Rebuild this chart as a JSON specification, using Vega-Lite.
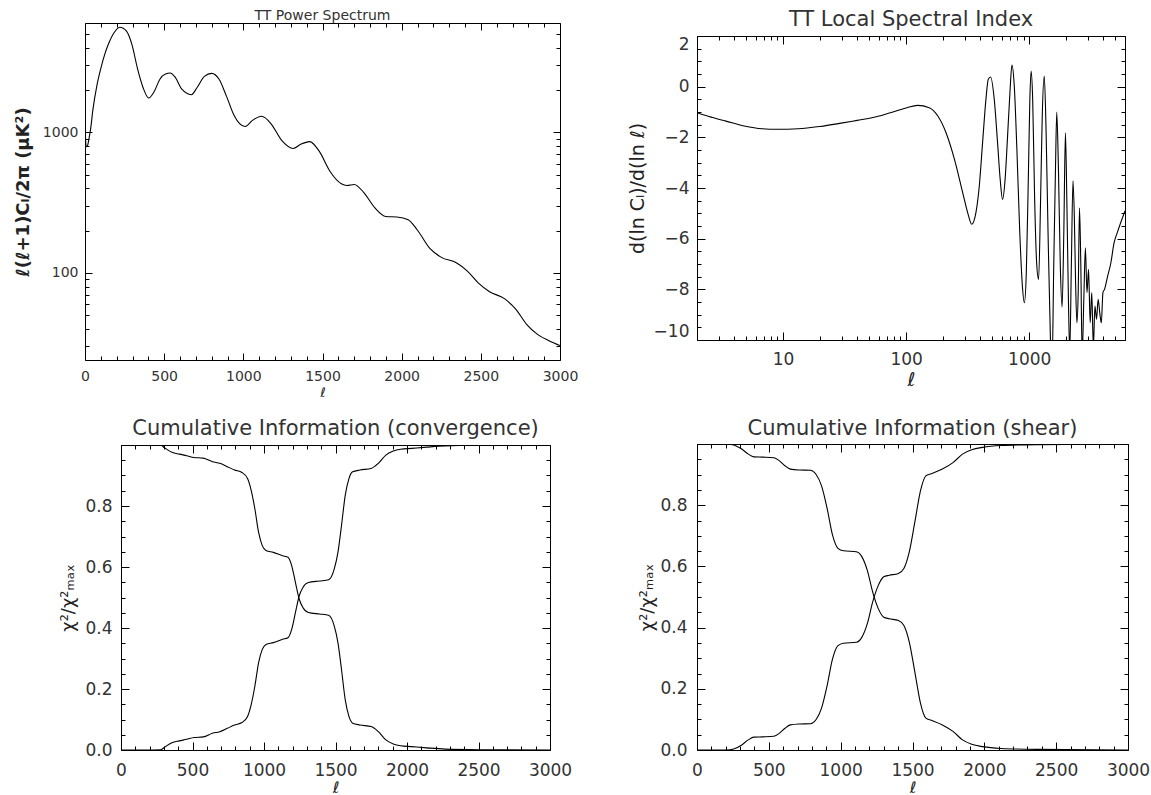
{
  "$schema": "https://vega.github.io/schema/vega-lite/v6.json",
  "background": "white",
  "padding": {"left": 10, "top": 7, "right": 5, "bottom": 0},
  "autosize": {"type": "pad"},
  "config": {
    "font": "DejaVu Sans",
    "view": {"stroke": "#000", "strokeWidth": 1},
    "axis": {"grid": false, "domain": false, "labelColor": "#333", "titleColor": "#222", "tickColor": "#000", "tickWidth": 1, "labelFont": "DejaVu Sans", "titleFont": "DejaVu Sans", "labelOverlap": false, "titleFontWeight": "normal"},
    "title": {"color": "#333", "fontWeight": "normal", "frame": "group", "anchor": "middle", "font": "DejaVu Sans"}
  },
  "datasets": {
    "spacer": [{"k": 0}],
    "ps": [{"l":2,"v":1000},{"l":4,"v":870},{"l":8,"v":790},{"l":15,"v":800},{"l":25,"v":900},{"l":35,"v":1050},{"l":50,"v":1450},{"l":75,"v":2150},{"l":100,"v":2850},{"l":125,"v":3600},{"l":150,"v":4300},{"l":180,"v":5050},{"l":220,"v":5600},{"l":262,"v":5250},{"l":297,"v":4190},{"l":332,"v":2830},{"l":367,"v":2077},{"l":402,"v":1754},{"l":438,"v":1962},{"l":473,"v":2390},{"l":508,"v":2600},{"l":538,"v":2644},{"l":566,"v":2500},{"l":613,"v":2020},{"l":672,"v":1854},{"l":707,"v":2077},{"l":754,"v":2500},{"l":800,"v":2630},{"l":847,"v":2390},{"l":894,"v":1803},{"l":941,"v":1324},{"l":1011,"v":1100},{"l":1058,"v":1217},{"l":1116,"v":1302},{"l":1175,"v":1151},{"l":1245,"v":869},{"l":1315,"v":768},{"l":1362,"v":822},{"l":1420,"v":859},{"l":1479,"v":735},{"l":1549,"v":525},{"l":1619,"v":431},{"l":1654,"v":419},{"l":1701,"v":426},{"l":1760,"v":374},{"l":1830,"v":291},{"l":1900,"v":252},{"l":1970,"v":250},{"l":2041,"v":239},{"l":2099,"v":202},{"l":2181,"v":148},{"l":2251,"v":129},{"l":2345,"v":118},{"l":2415,"v":103},{"l":2485,"v":84.5},{"l":2555,"v":73.4},{"l":2649,"v":65.6},{"l":2719,"v":55.5},{"l":2789,"v":43.1},{"l":2860,"v":36.4},{"l":2930,"v":32.9},{"l":3000,"v":30.4}],
    "si": [{"l":2,"v":-1.03},{"l":2.5,"v":-1.18},{"l":3.44,"v":-1.36},{"l":4.83,"v":-1.55},{"l":6.78,"v":-1.66},{"l":8.9,"v":-1.68},{"l":13.3,"v":-1.66},{"l":20,"v":-1.57},{"l":28.8,"v":-1.45},{"l":40,"v":-1.33},{"l":53.7,"v":-1.22},{"l":73,"v":-1.04},{"l":100,"v":-0.84},{"l":124,"v":-0.74},{"l":154,"v":-0.83},{"l":181,"v":-1.16},{"l":211,"v":-1.82},{"l":247,"v":-2.87},{"l":288,"v":-4.18},{"l":316,"v":-4.97},{"l":341,"v":-5.43},{"l":369,"v":-4.97},{"l":393,"v":-3.92},{"l":418,"v":-2.21},{"l":445,"v":-0.5},{"l":465,"v":0.29},{"l":485,"v":0.38},{"l":520,"v":-0.5},{"l":553,"v":-2.21},{"l":581,"v":-3.66},{"l":607,"v":-4.45},{"l":637,"v":-3.66},{"l":665,"v":-2.08},{"l":697,"v":-0.24},{"l":724,"v":0.85},{"l":756,"v":0.03},{"l":794,"v":-2.47},{"l":838,"v":-5.76},{"l":880,"v":-7.87},{"l":913,"v":-8.53},{"l":947,"v":-7.34},{"l":982,"v":-3.79},{"l":1012,"v":-0.5},{"l":1036,"v":0.62},{"l":1067,"v":-0.5},{"l":1107,"v":-4.45},{"l":1149,"v":-6.95},{"l":1192,"v":-7.61},{"l":1237,"v":-4.45},{"l":1276,"v":-1.16},{"l":1325,"v":0.42},{"l":1372,"v":-1.82},{"l":1422,"v":-5.76},{"l":1487,"v":-9.97},{"l":1528,"v":-11.5},{"l":1582,"v":-7.08},{"l":1636,"v":-3.13},{"l":1674,"v":-1.0},{"l":1730,"v":-3.4},{"l":1789,"v":-7.08},{"l":1849,"v":-8.7},{"l":1910,"v":-5.76},{"l":1969,"v":-1.82},{"l":2021,"v":-4.45},{"l":2082,"v":-8.39},{"l":2134,"v":-10.5},{"l":2199,"v":-7.08},{"l":2267,"v":-3.72},{"l":2325,"v":-5.11},{"l":2381,"v":-7.74},{"l":2440,"v":-9.32},{"l":2500,"v":-8.13},{"l":2562,"v":-4.78},{"l":2626,"v":-7.08},{"l":2692,"v":-10.6},{"l":2777,"v":-8.39},{"l":2860,"v":-6.36},{"l":2946,"v":-8.13},{"l":3035,"v":-7.21},{"l":3127,"v":-9.32},{"l":3222,"v":-8.13},{"l":3319,"v":-10.3},{"l":3420,"v":-8.66},{"l":3523,"v":-9.18},{"l":3630,"v":-8.39},{"l":3740,"v":-8.92},{"l":3853,"v":-9.32},{"l":3970,"v":-8.13},{"l":4090,"v":-8.0},{"l":4341,"v":-7.47},{"l":4608,"v":-6.95},{"l":4892,"v":-6.16},{"l":5192,"v":-5.76},{"l":6000,"v":-4.9}],
    "conv": [{"l":0,"v":0,"s":"a"},{"l":150,"v":0,"s":"a"},{"l":279,"v":0.001,"s":"a"},{"l":304,"v":0.009,"s":"a"},{"l":356,"v":0.024,"s":"a"},{"l":408,"v":0.03,"s":"a"},{"l":459,"v":0.035,"s":"a"},{"l":511,"v":0.041,"s":"a"},{"l":575,"v":0.043,"s":"a"},{"l":640,"v":0.055,"s":"a"},{"l":691,"v":0.06,"s":"a"},{"l":743,"v":0.071,"s":"a"},{"l":794,"v":0.082,"s":"a"},{"l":846,"v":0.09,"s":"a"},{"l":885,"v":0.11,"s":"a"},{"l":910,"v":0.148,"s":"a"},{"l":936,"v":0.209,"s":"a"},{"l":962,"v":0.286,"s":"a"},{"l":988,"v":0.33,"s":"a"},{"l":1014,"v":0.346,"s":"a"},{"l":1065,"v":0.352,"s":"a"},{"l":1130,"v":0.363,"s":"a"},{"l":1168,"v":0.368,"s":"a"},{"l":1194,"v":0.396,"s":"a"},{"l":1220,"v":0.451,"s":"a"},{"l":1246,"v":0.505,"s":"a"},{"l":1272,"v":0.533,"s":"a"},{"l":1310,"v":0.549,"s":"a"},{"l":1388,"v":0.554,"s":"a"},{"l":1452,"v":0.558,"s":"a"},{"l":1491,"v":0.593,"s":"a"},{"l":1517,"v":0.648,"s":"a"},{"l":1542,"v":0.736,"s":"a"},{"l":1568,"v":0.835,"s":"a"},{"l":1594,"v":0.89,"s":"a"},{"l":1620,"v":0.912,"s":"a"},{"l":1671,"v":0.918,"s":"a"},{"l":1749,"v":0.923,"s":"a"},{"l":1800,"v":0.94,"s":"a"},{"l":1852,"v":0.967,"s":"a"},{"l":1904,"v":0.98,"s":"a"},{"l":1955,"v":0.986,"s":"a"},{"l":2032,"v":0.989,"s":"a"},{"l":2136,"v":0.993,"s":"a"},{"l":2265,"v":0.997,"s":"a"},{"l":2523,"v":0.999,"s":"a"},{"l":3000,"v":1,"s":"a"},
      {"l":0,"v":1,"s":"b"},{"l":150,"v":1,"s":"b"},{"l":279,"v":0.999,"s":"b"},{"l":304,"v":0.991,"s":"b"},{"l":356,"v":0.976,"s":"b"},{"l":408,"v":0.97,"s":"b"},{"l":459,"v":0.965,"s":"b"},{"l":511,"v":0.959,"s":"b"},{"l":575,"v":0.957,"s":"b"},{"l":640,"v":0.945,"s":"b"},{"l":691,"v":0.94,"s":"b"},{"l":743,"v":0.929,"s":"b"},{"l":794,"v":0.918,"s":"b"},{"l":846,"v":0.91,"s":"b"},{"l":885,"v":0.89,"s":"b"},{"l":910,"v":0.852,"s":"b"},{"l":936,"v":0.791,"s":"b"},{"l":962,"v":0.714,"s":"b"},{"l":988,"v":0.67,"s":"b"},{"l":1014,"v":0.654,"s":"b"},{"l":1065,"v":0.648,"s":"b"},{"l":1130,"v":0.637,"s":"b"},{"l":1168,"v":0.632,"s":"b"},{"l":1194,"v":0.604,"s":"b"},{"l":1220,"v":0.549,"s":"b"},{"l":1246,"v":0.495,"s":"b"},{"l":1272,"v":0.467,"s":"b"},{"l":1310,"v":0.451,"s":"b"},{"l":1388,"v":0.446,"s":"b"},{"l":1452,"v":0.442,"s":"b"},{"l":1491,"v":0.407,"s":"b"},{"l":1517,"v":0.352,"s":"b"},{"l":1542,"v":0.264,"s":"b"},{"l":1568,"v":0.165,"s":"b"},{"l":1594,"v":0.11,"s":"b"},{"l":1620,"v":0.088,"s":"b"},{"l":1671,"v":0.082,"s":"b"},{"l":1749,"v":0.077,"s":"b"},{"l":1800,"v":0.06,"s":"b"},{"l":1852,"v":0.033,"s":"b"},{"l":1904,"v":0.02,"s":"b"},{"l":1955,"v":0.014,"s":"b"},{"l":2032,"v":0.011,"s":"b"},{"l":2136,"v":0.007,"s":"b"},{"l":2265,"v":0.003,"s":"b"},{"l":2523,"v":0.001,"s":"b"},{"l":3000,"v":0,"s":"b"}],
    "shear": [{"l":0,"v":0,"s":"a"},{"l":204,"v":0,"s":"a"},{"l":255,"v":0.003,"s":"a"},{"l":306,"v":0.015,"s":"a"},{"l":357,"v":0.033,"s":"a"},{"l":395,"v":0.042,"s":"a"},{"l":459,"v":0.043,"s":"a"},{"l":535,"v":0.045,"s":"a"},{"l":574,"v":0.055,"s":"a"},{"l":612,"v":0.071,"s":"a"},{"l":650,"v":0.082,"s":"a"},{"l":714,"v":0.085,"s":"a"},{"l":790,"v":0.086,"s":"a"},{"l":828,"v":0.099,"s":"a"},{"l":867,"v":0.137,"s":"a"},{"l":905,"v":0.209,"s":"a"},{"l":943,"v":0.297,"s":"a"},{"l":981,"v":0.341,"s":"a"},{"l":1020,"v":0.349,"s":"a"},{"l":1109,"v":0.352,"s":"a"},{"l":1147,"v":0.368,"s":"a"},{"l":1185,"v":0.412,"s":"a"},{"l":1223,"v":0.484,"s":"a"},{"l":1262,"v":0.538,"s":"a"},{"l":1300,"v":0.566,"s":"a"},{"l":1338,"v":0.571,"s":"a"},{"l":1402,"v":0.577,"s":"a"},{"l":1440,"v":0.593,"s":"a"},{"l":1478,"v":0.648,"s":"a"},{"l":1517,"v":0.747,"s":"a"},{"l":1555,"v":0.846,"s":"a"},{"l":1593,"v":0.896,"s":"a"},{"l":1631,"v":0.903,"s":"a"},{"l":1708,"v":0.918,"s":"a"},{"l":1784,"v":0.94,"s":"a"},{"l":1848,"v":0.967,"s":"a"},{"l":1912,"v":0.981,"s":"a"},{"l":1988,"v":0.989,"s":"a"},{"l":2116,"v":0.995,"s":"a"},{"l":2371,"v":0.998,"s":"a"},{"l":3000,"v":1,"s":"a"},
      {"l":0,"v":1,"s":"b"},{"l":204,"v":1,"s":"b"},{"l":255,"v":0.997,"s":"b"},{"l":306,"v":0.985,"s":"b"},{"l":357,"v":0.967,"s":"b"},{"l":395,"v":0.958,"s":"b"},{"l":459,"v":0.957,"s":"b"},{"l":535,"v":0.955,"s":"b"},{"l":574,"v":0.945,"s":"b"},{"l":612,"v":0.929,"s":"b"},{"l":650,"v":0.918,"s":"b"},{"l":714,"v":0.915,"s":"b"},{"l":790,"v":0.914,"s":"b"},{"l":828,"v":0.901,"s":"b"},{"l":867,"v":0.863,"s":"b"},{"l":905,"v":0.791,"s":"b"},{"l":943,"v":0.703,"s":"b"},{"l":981,"v":0.659,"s":"b"},{"l":1020,"v":0.651,"s":"b"},{"l":1109,"v":0.648,"s":"b"},{"l":1147,"v":0.632,"s":"b"},{"l":1185,"v":0.588,"s":"b"},{"l":1223,"v":0.516,"s":"b"},{"l":1262,"v":0.462,"s":"b"},{"l":1300,"v":0.434,"s":"b"},{"l":1338,"v":0.429,"s":"b"},{"l":1402,"v":0.423,"s":"b"},{"l":1440,"v":0.407,"s":"b"},{"l":1478,"v":0.352,"s":"b"},{"l":1517,"v":0.253,"s":"b"},{"l":1555,"v":0.154,"s":"b"},{"l":1593,"v":0.104,"s":"b"},{"l":1631,"v":0.097,"s":"b"},{"l":1708,"v":0.082,"s":"b"},{"l":1784,"v":0.06,"s":"b"},{"l":1848,"v":0.033,"s":"b"},{"l":1912,"v":0.019,"s":"b"},{"l":1988,"v":0.011,"s":"b"},{"l":2116,"v":0.005,"s":"b"},{"l":2371,"v":0.002,"s":"b"},{"l":3000,"v":0,"s":"b"}]
  },
  "spacing": 45,
  "hconcat": [
    {
      "spacing": 0,
      "vconcat": [
        {"width": 1, "height": 1, "data": {"name": "spacer"}, "mark": {"type": "point", "opacity": 0, "size": 0}, "view": {"stroke": null}},
        {
          "spacing": 17,
          "vconcat": [
            {
              "spacing": 0,
              "hconcat": [
                {"width": 1, "height": 1, "data": {"name": "spacer"}, "mark": {"type": "point", "opacity": 0, "size": 0}, "view": {"stroke": null}},
                {
                  "width": 475, "height": 337,
                  "title": {"text": "TT Power Spectrum", "fontSize": 14, "offset": 0},
                  "data": {"name": "ps"},
                  "layer": [
                    {"mark": {"type": "line", "color": "#000", "strokeWidth": 1.1, "interpolate": "monotone", "clip": true},
                     "encoding": {
                       "x": {"field": "l", "type": "quantitative", "scale": {"domain": [0, 3000], "nice": false, "zero": false},
                             "axis": {"orient": "bottom", "values": [0,500,1000,1500,2000,2500,3000], "format": "d", "ticks": false, "tickSize": 0, "labelFontSize": 14, "labelPadding": 9, "labelFlush": false, "title": "ℓ", "titleFontSize": 13, "titleFontStyle": "italic", "titlePadding": 3}},
                       "y": {"field": "v", "type": "quantitative", "scale": {"type": "log", "domain": [24, 6000], "nice": false},
                             "axis": {"orient": "left", "values": [100, 1000], "format": "d", "ticks": false, "tickSize": 0, "labelFontSize": 14, "labelPadding": 7, "title": "ℓ(ℓ+1)Cₗ/2π (μK²)", "titleFontSize": 18, "titleFontWeight": "bold", "titleX": -53}}}},
                    {"mark": {"type": "line", "opacity": 0, "clip": true},
                     "encoding": {
                       "x": {"field": "l", "type": "quantitative", "scale": {"domain": [0, 3000], "nice": false, "zero": false},
                             "axis": {"orient": "bottom", "values": [0,500,1000,1500,2000,2500,3000], "labels": false, "tickSize": -7, "title": null}},
                       "y": {"field": "v", "type": "quantitative", "scale": {"type": "log", "domain": [24, 6000], "nice": false},
                             "axis": {"orient": "left", "values": [100, 1000], "labels": false, "tickSize": -7, "title": null}}}},
                    {"mark": {"type": "line", "opacity": 0, "clip": true},
                     "encoding": {
                       "x": {"field": "l", "type": "quantitative", "scale": {"domain": [0, 3000], "nice": false, "zero": false},
                             "axis": {"orient": "bottom", "values": [100,200,300,400,600,700,800,900,1100,1200,1300,1400,1600,1700,1800,1900,2100,2200,2300,2400,2600,2700,2800,2900], "labels": false, "tickSize": -4, "title": null}},
                       "y": {"field": "v", "type": "quantitative", "scale": {"type": "log", "domain": [24, 6000], "nice": false},
                             "axis": {"orient": "left", "values": [30,40,50,60,70,80,90,200,300,400,500,600,700,800,900,2000,3000,4000,5000], "labels": false, "tickSize": -4, "title": null}}}},
                    {"mark": {"type": "line", "opacity": 0, "clip": true},
                     "encoding": {
                       "x": {"field": "l", "type": "quantitative", "scale": {"domain": [0, 3000], "nice": false, "zero": false},
                             "axis": {"orient": "top", "values": [0,500,1000,1500,2000,2500,3000], "labels": false, "tickSize": -7, "title": null}},
                       "y": {"field": "v", "type": "quantitative", "scale": {"type": "log", "domain": [24, 6000], "nice": false},
                             "axis": {"orient": "right", "values": [100, 1000], "labels": false, "tickSize": -7, "title": null}}}},
                    {"mark": {"type": "line", "opacity": 0, "clip": true},
                     "encoding": {
                       "x": {"field": "l", "type": "quantitative", "scale": {"domain": [0, 3000], "nice": false, "zero": false},
                             "axis": {"orient": "top", "values": [100,200,300,400,600,700,800,900,1100,1200,1300,1400,1600,1700,1800,1900,2100,2200,2300,2400,2600,2700,2800,2900], "labels": false, "tickSize": -4, "title": null}},
                       "y": {"field": "v", "type": "quantitative", "scale": {"type": "log", "domain": [24, 6000], "nice": false},
                             "axis": {"orient": "right", "values": [30,40,50,60,70,80,90,200,300,400,500,600,700,800,900,2000,3000,4000,5000], "labels": false, "tickSize": -4, "title": null}}}},
                    {"mark": {"type": "line", "opacity": 0, "clip": true},
                     "encoding": {
                       "x": {"field": "l", "type": "quantitative", "scale": {"domain": [0, 3000], "nice": false, "zero": false}, "axis": null},
                       "y": {"field": "v", "type": "quantitative", "scale": {"type": "log", "domain": [24, 6000], "nice": false},
                             "axis": {"orient": "left", "values": [400], "labels": false, "tickSize": 73, "tickOpacity": 0, "title": null}}}}
                  ],
                  "resolve": {"axis": {"x": "independent", "y": "independent"}}
                }
              ]
            },
            {
              "spacing": 0,
              "hconcat": [
                {"width": 1, "height": 1, "data": {"name": "spacer"}, "mark": {"type": "point", "opacity": 0, "size": 0}, "view": {"stroke": null}},
                {
                  "width": 429, "height": 305,
                  "title": {"text": "Cumulative Information (convergence)", "fontSize": 21, "offset": 6},
                  "data": {"name": "conv"},
                  "layer": [
                    {"mark": {"type": "line", "color": "#000", "strokeWidth": 1.1, "interpolate": "monotone", "clip": true},
                     "encoding": {
                       "detail": {"field": "s"},
                       "x": {"field": "l", "type": "quantitative", "scale": {"domain": [0, 3000], "nice": false, "zero": false},
                             "axis": {"orient": "bottom", "values": [0,500,1000,1500,2000,2500,3000], "format": "d", "ticks": false, "tickSize": 0, "labelFontSize": 17, "labelPadding": 12, "labelFlush": false, "title": "ℓ", "titleFontSize": 16, "titleFontStyle": "italic", "titlePadding": 1}},
                       "y": {"field": "v", "type": "quantitative", "scale": {"domain": [0, 1], "nice": false, "zero": false},
                             "axis": {"orient": "left", "values": [0, 0.2, 0.4, 0.6, 0.8], "format": ".1f", "ticks": false, "tickSize": 0, "labelFontSize": 17, "labelPadding": 9, "title": "χ²/χ²ₘₐₓ", "titleFontSize": 18, "titleX": -44}}}},
                    {"mark": {"type": "line", "opacity": 0, "clip": true},
                     "encoding": {
                       "detail": {"field": "s"},
                       "x": {"field": "l", "type": "quantitative", "scale": {"domain": [0, 3000], "nice": false, "zero": false},
                             "axis": {"orient": "bottom", "values": [0,500,1000,1500,2000,2500,3000], "labels": false, "tickSize": -8, "title": null}},
                       "y": {"field": "v", "type": "quantitative", "scale": {"domain": [0, 1], "nice": false, "zero": false},
                             "axis": {"orient": "left", "values": [0, 0.2, 0.4, 0.6, 0.8, 1], "labels": false, "tickSize": -8, "title": null}}}},
                    {"mark": {"type": "line", "opacity": 0, "clip": true},
                     "encoding": {
                       "detail": {"field": "s"},
                       "x": {"field": "l", "type": "quantitative", "scale": {"domain": [0, 3000], "nice": false, "zero": false},
                             "axis": {"orient": "bottom", "values": [100,200,300,400,600,700,800,900,1100,1200,1300,1400,1600,1700,1800,1900,2100,2200,2300,2400,2600,2700,2800,2900], "labels": false, "tickSize": -4, "title": null}},
                       "y": {"field": "v", "type": "quantitative", "scale": {"domain": [0, 1], "nice": false, "zero": false},
                             "axis": {"orient": "left", "values": [0.05,0.1,0.15,0.25,0.3,0.35,0.45,0.5,0.55,0.65,0.7,0.75,0.85,0.9,0.95], "labels": false, "tickSize": -4, "title": null}}}},
                    {"mark": {"type": "line", "opacity": 0, "clip": true},
                     "encoding": {
                       "detail": {"field": "s"},
                       "x": {"field": "l", "type": "quantitative", "scale": {"domain": [0, 3000], "nice": false, "zero": false},
                             "axis": {"orient": "top", "values": [0,500,1000,1500,2000,2500,3000], "labels": false, "tickSize": -8, "title": null}},
                       "y": {"field": "v", "type": "quantitative", "scale": {"domain": [0, 1], "nice": false, "zero": false},
                             "axis": {"orient": "right", "values": [0, 0.2, 0.4, 0.6, 0.8, 1], "labels": false, "tickSize": -8, "title": null}}}},
                    {"mark": {"type": "line", "opacity": 0, "clip": true},
                     "encoding": {
                       "detail": {"field": "s"},
                       "x": {"field": "l", "type": "quantitative", "scale": {"domain": [0, 3000], "nice": false, "zero": false},
                             "axis": {"orient": "top", "values": [100,200,300,400,600,700,800,900,1100,1200,1300,1400,1600,1700,1800,1900,2100,2200,2300,2400,2600,2700,2800,2900], "labels": false, "tickSize": -4, "title": null}},
                       "y": {"field": "v", "type": "quantitative", "scale": {"domain": [0, 1], "nice": false, "zero": false},
                             "axis": {"orient": "right", "values": [0.05,0.1,0.15,0.25,0.3,0.35,0.45,0.5,0.55,0.65,0.7,0.75,0.85,0.9,0.95], "labels": false, "tickSize": -4, "title": null}}}},
                    {"mark": {"type": "line", "opacity": 0, "clip": true},
                     "encoding": {
                       "detail": {"field": "s"},
                       "x": {"field": "l", "type": "quantitative", "scale": {"domain": [0, 3000], "nice": false, "zero": false}, "axis": null},
                       "y": {"field": "v", "type": "quantitative", "scale": {"domain": [0, 1], "nice": false, "zero": false},
                             "axis": {"orient": "left", "values": [0.5], "labels": false, "tickSize": 109, "tickOpacity": 0, "title": null}}}}
                  ],
                  "resolve": {"axis": {"x": "independent", "y": "independent"}}
                }
              ]
            }
          ]
        }
      ]
    },
    {
      "spacing": 0,
      "vconcat": [
        {"width": 1, "height": 1, "data": {"name": "spacer"}, "mark": {"type": "point", "opacity": 0, "size": 0}, "view": {"stroke": null}},
        {
          "spacing": 27,
          "vconcat": [
            {
              "width": 428, "height": 304,
              "title": {"text": "TT Local Spectral Index", "fontSize": 21, "offset": 5},
              "data": {"name": "si"},
              "layer": [
                {"mark": {"type": "line", "color": "#000", "strokeWidth": 1.1, "interpolate": "monotone", "clip": true},
                 "encoding": {
                   "x": {"field": "l", "type": "quantitative", "scale": {"type": "log", "domain": [2, 6000], "nice": false},
                         "axis": {"orient": "bottom", "values": [10, 100, 1000], "format": "d", "ticks": false, "tickSize": 0, "labelFontSize": 17, "labelPadding": 11, "labelFlush": false, "title": "ℓ", "titleFontSize": 19, "titleFontStyle": "italic", "titlePadding": 3}},
                   "y": {"field": "v", "type": "quantitative", "scale": {"domain": [-10, 2], "nice": false, "zero": false},
                         "axis": {"orient": "left", "values": [-10,-8,-6,-4,-2,0,2], "format": "d", "ticks": false, "tickSize": 0, "labelFontSize": 17, "labelPadding": 8, "labelFlush": true, "title": "d(ln Cₗ)/d(ln ℓ)", "titleFontSize": 19, "titleX": -50}}}},
                {"mark": {"type": "line", "opacity": 0, "clip": true},
                 "encoding": {
                   "x": {"field": "l", "type": "quantitative", "scale": {"type": "log", "domain": [2, 6000], "nice": false},
                         "axis": {"orient": "bottom", "values": [10, 100, 1000], "labels": false, "tickSize": -8, "title": null}},
                   "y": {"field": "v", "type": "quantitative", "scale": {"domain": [-10, 2], "nice": false, "zero": false},
                         "axis": {"orient": "left", "values": [-10,-8,-6,-4,-2,0,2], "labels": false, "tickSize": -8, "title": null}}}},
                {"mark": {"type": "line", "opacity": 0, "clip": true},
                 "encoding": {
                   "x": {"field": "l", "type": "quantitative", "scale": {"type": "log", "domain": [2, 6000], "nice": false},
                         "axis": {"orient": "bottom", "values": [2,3,4,5,6,7,8,9,20,30,40,50,60,70,80,90,200,300,400,500,600,700,800,900,2000,3000,4000,5000,6000], "labels": false, "tickSize": -4, "title": null}},
                   "y": {"field": "v", "type": "quantitative", "scale": {"domain": [-10, 2], "nice": false, "zero": false},
                         "axis": {"orient": "left", "values": [-9.5,-9,-8.5,-7.5,-7,-6.5,-5.5,-5,-4.5,-3.5,-3,-2.5,-1.5,-1,-0.5,0.5,1,1.5], "labels": false, "tickSize": -4, "title": null}}}},
                {"mark": {"type": "line", "opacity": 0, "clip": true},
                 "encoding": {
                   "x": {"field": "l", "type": "quantitative", "scale": {"type": "log", "domain": [2, 6000], "nice": false},
                         "axis": {"orient": "top", "values": [10, 100, 1000], "labels": false, "tickSize": -8, "title": null}},
                   "y": {"field": "v", "type": "quantitative", "scale": {"domain": [-10, 2], "nice": false, "zero": false},
                         "axis": {"orient": "right", "values": [-10,-8,-6,-4,-2,0,2], "labels": false, "tickSize": -8, "title": null}}}},
                {"mark": {"type": "line", "opacity": 0, "clip": true},
                 "encoding": {
                   "x": {"field": "l", "type": "quantitative", "scale": {"type": "log", "domain": [2, 6000], "nice": false},
                         "axis": {"orient": "top", "values": [2,3,4,5,6,7,8,9,20,30,40,50,60,70,80,90,200,300,400,500,600,700,800,900,2000,3000,4000,5000,6000], "labels": false, "tickSize": -4, "title": null}},
                   "y": {"field": "v", "type": "quantitative", "scale": {"domain": [-10, 2], "nice": false, "zero": false},
                         "axis": {"orient": "right", "values": [-9.5,-9,-8.5,-7.5,-7,-6.5,-5.5,-5,-4.5,-3.5,-3,-2.5,-1.5,-1,-0.5,0.5,1,1.5], "labels": false, "tickSize": -4, "title": null}}}},
                {"mark": {"type": "line", "opacity": 0, "clip": true},
                 "encoding": {
                   "x": {"field": "l", "type": "quantitative", "scale": {"type": "log", "domain": [2, 6000], "nice": false}, "axis": null},
                   "y": {"field": "v", "type": "quantitative", "scale": {"domain": [-10, 2], "nice": false, "zero": false},
                         "axis": {"orient": "left", "values": [-3], "labels": false, "tickSize": 72, "tickOpacity": 0, "title": null}}}}
              ],
              "resolve": {"axis": {"x": "independent", "y": "independent"}}
            },
            {
              "width": 431, "height": 306,
              "title": {"text": "Cumulative Information (shear)", "fontSize": 21, "offset": 5},
              "data": {"name": "shear"},
              "layer": [
                {"mark": {"type": "line", "color": "#000", "strokeWidth": 1.1, "interpolate": "monotone", "clip": true},
                 "encoding": {
                   "detail": {"field": "s"},
                   "x": {"field": "l", "type": "quantitative", "scale": {"domain": [0, 3000], "nice": false, "zero": false},
                         "axis": {"orient": "bottom", "values": [0,500,1000,1500,2000,2500,3000], "format": "d", "ticks": false, "tickSize": 0, "labelFontSize": 17, "labelPadding": 12, "labelFlush": false, "title": "ℓ", "titleFontSize": 16, "titleFontStyle": "italic", "titlePadding": 1}},
                   "y": {"field": "v", "type": "quantitative", "scale": {"domain": [0, 1], "nice": false, "zero": false},
                         "axis": {"orient": "left", "values": [0, 0.2, 0.4, 0.6, 0.8], "format": ".1f", "ticks": false, "tickSize": 0, "labelFontSize": 17, "labelPadding": 10, "title": "χ²/χ²ₘₐₓ", "titleFontSize": 18, "titleX": -41}}}},
                {"mark": {"type": "line", "opacity": 0, "clip": true},
                 "encoding": {
                   "detail": {"field": "s"},
                   "x": {"field": "l", "type": "quantitative", "scale": {"domain": [0, 3000], "nice": false, "zero": false},
                         "axis": {"orient": "bottom", "values": [0,500,1000,1500,2000,2500,3000], "labels": false, "tickSize": -8, "title": null}},
                   "y": {"field": "v", "type": "quantitative", "scale": {"domain": [0, 1], "nice": false, "zero": false},
                         "axis": {"orient": "left", "values": [0, 0.2, 0.4, 0.6, 0.8, 1], "labels": false, "tickSize": -8, "title": null}}}},
                {"mark": {"type": "line", "opacity": 0, "clip": true},
                 "encoding": {
                   "detail": {"field": "s"},
                   "x": {"field": "l", "type": "quantitative", "scale": {"domain": [0, 3000], "nice": false, "zero": false},
                         "axis": {"orient": "bottom", "values": [100,200,300,400,600,700,800,900,1100,1200,1300,1400,1600,1700,1800,1900,2100,2200,2300,2400,2600,2700,2800,2900], "labels": false, "tickSize": -4, "title": null}},
                   "y": {"field": "v", "type": "quantitative", "scale": {"domain": [0, 1], "nice": false, "zero": false},
                         "axis": {"orient": "left", "values": [0.05,0.1,0.15,0.25,0.3,0.35,0.45,0.5,0.55,0.65,0.7,0.75,0.85,0.9,0.95], "labels": false, "tickSize": -4, "title": null}}}},
                {"mark": {"type": "line", "opacity": 0, "clip": true},
                 "encoding": {
                   "detail": {"field": "s"},
                   "x": {"field": "l", "type": "quantitative", "scale": {"domain": [0, 3000], "nice": false, "zero": false},
                         "axis": {"orient": "top", "values": [0,500,1000,1500,2000,2500,3000], "labels": false, "tickSize": -8, "title": null}},
                   "y": {"field": "v", "type": "quantitative", "scale": {"domain": [0, 1], "nice": false, "zero": false},
                         "axis": {"orient": "right", "values": [0, 0.2, 0.4, 0.6, 0.8, 1], "labels": false, "tickSize": -8, "title": null}}}},
                {"mark": {"type": "line", "opacity": 0, "clip": true},
                 "encoding": {
                   "detail": {"field": "s"},
                   "x": {"field": "l", "type": "quantitative", "scale": {"domain": [0, 3000], "nice": false, "zero": false},
                         "axis": {"orient": "top", "values": [100,200,300,400,600,700,800,900,1100,1200,1300,1400,1600,1700,1800,1900,2100,2200,2300,2400,2600,2700,2800,2900], "labels": false, "tickSize": -4, "title": null}},
                   "y": {"field": "v", "type": "quantitative", "scale": {"domain": [0, 1], "nice": false, "zero": false},
                         "axis": {"orient": "right", "values": [0.05,0.1,0.15,0.25,0.3,0.35,0.45,0.5,0.55,0.65,0.7,0.75,0.85,0.9,0.95], "labels": false, "tickSize": -4, "title": null}}}}
              ],
              "resolve": {"axis": {"x": "independent", "y": "independent"}}
            }
          ]
        }
      ]
    }
  ]
}
